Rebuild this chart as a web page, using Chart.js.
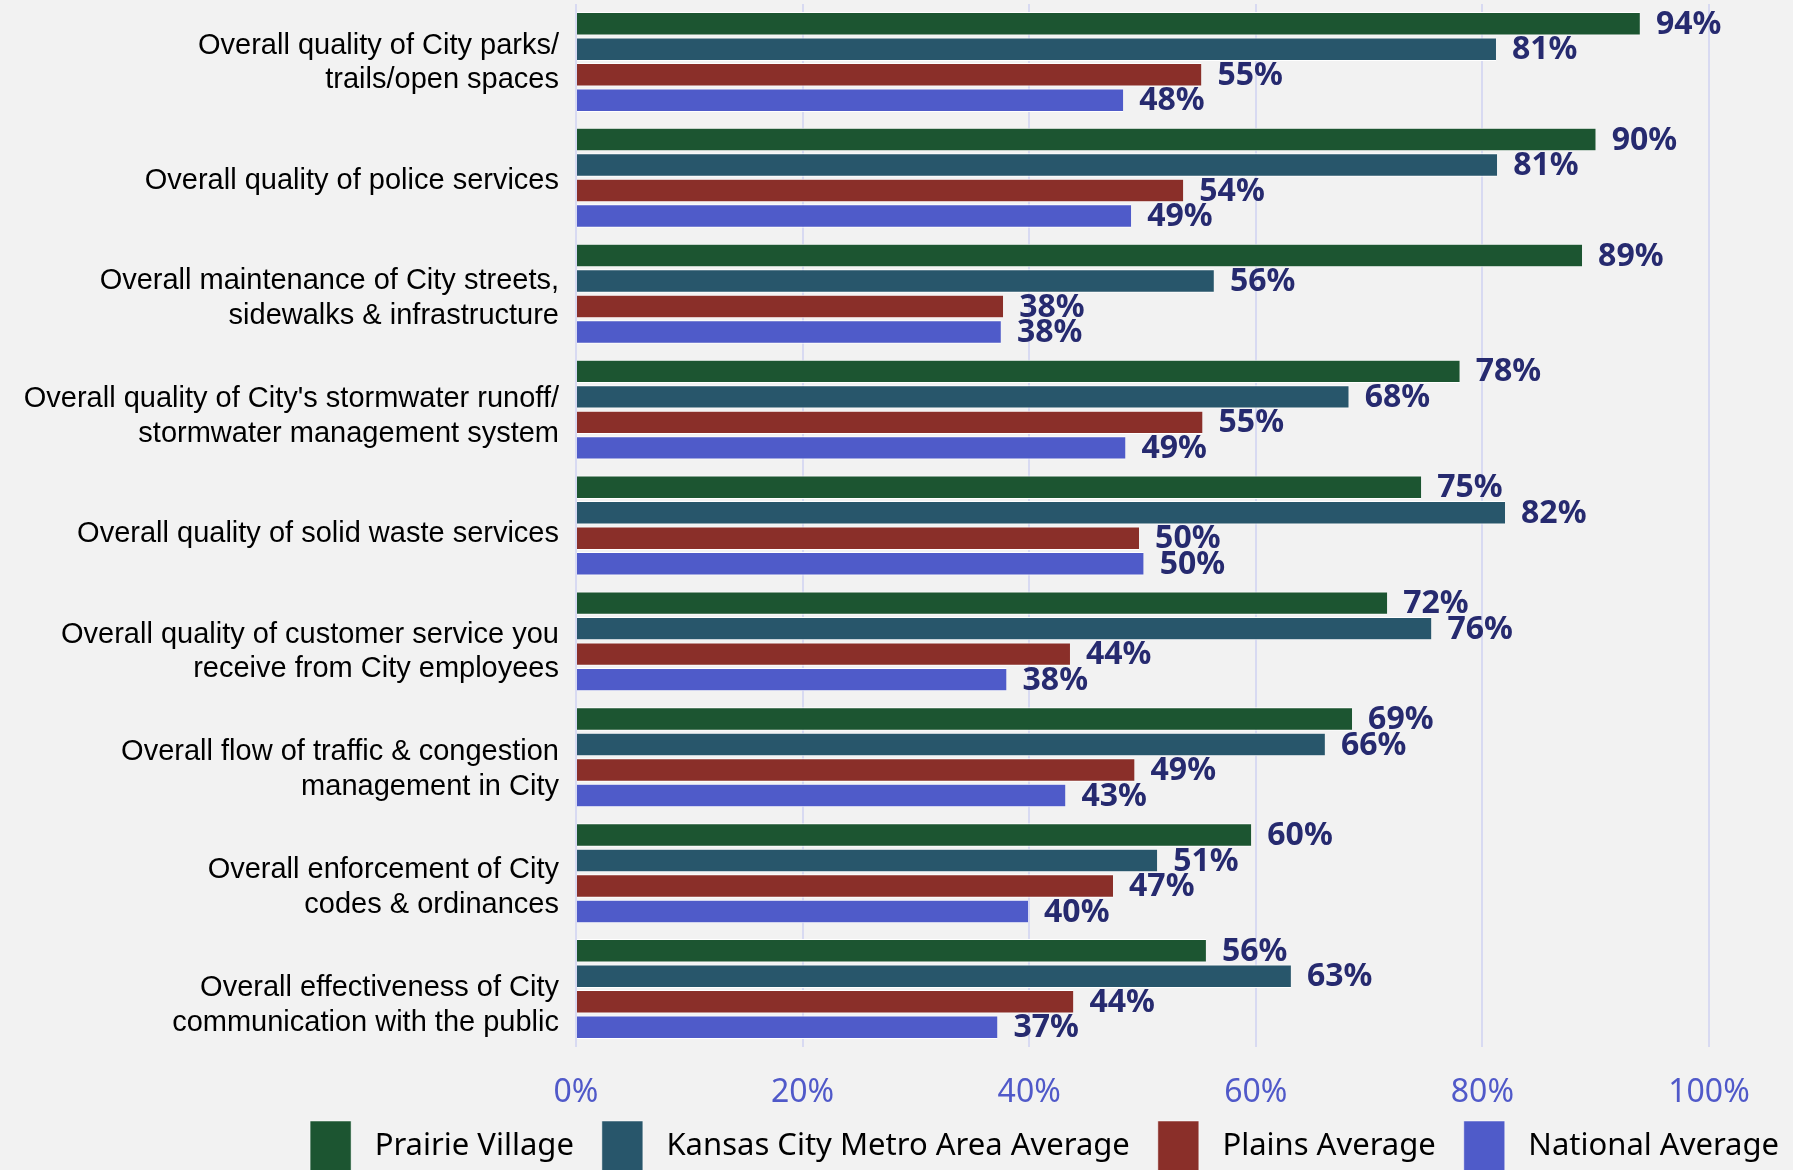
<!DOCTYPE html>
<html>
<head>
<meta charset="utf-8">
<script src="https://cdn.jsdelivr.net/npm/chart.js@4.4.1/dist/chart.umd.min.js"></script>
<style>
  html, body { margin: 0; padding: 0; background: #f2f2f2; }
  #wrap { width: 1793px; height: 1170px; position: relative; }
</style>
</head>
<body>
<div id="wrap"><canvas id="c"></canvas></div>
<script>
const categories = [
  ["Overall quality of City parks/", "trails/open spaces"],
  "Overall quality of police services",
  ["Overall maintenance of City streets,", "sidewalks & infrastructure"],
  ["Overall quality of City's stormwater runoff/", "stormwater management system"],
  "Overall quality of solid waste services",
  ["Overall quality of customer service you", "receive from City employees"],
  ["Overall flow of traffic & congestion", "management in City"],
  ["Overall enforcement of City", "codes & ordinances"],
  ["Overall effectiveness of City", "communication with the public"]
];
const seriesNames = ["Prairie Village", "Kansas City Metro Area Average", "Plains Average", "National Average"];
const prairieVillage = [93.9, 90.0, 88.8, 78.0, 74.6, 71.6, 68.5, 59.6, 55.6];
const kansasCityMetro = [81.2, 81.3, 56.3, 68.2, 82.0, 75.5, 66.1, 51.3, 63.1];
const plainsAverage = [55.2, 53.6, 37.7, 55.3, 49.7, 43.6, 49.3, 47.4, 43.9];
const nationalAverage = [48.3, 49.0, 37.5, 48.5, 50.1, 38.0, 43.2, 39.9, 37.2];
const xTickValues = [0, 20, 40, 60, 80, 100];

const colors = ["#1c5531", "#28566b", "#8a2f29", "#4f5bc9"];
const allSeries = [prairieVillage, kansasCityMetro, plainsAverage, nationalAverage];

const datasets = allSeries.map((vals, i) => ({
  label: seriesNames[i],
  data: vals,
  yAxisID: "y",
  backgroundColor: colors[i],
  borderColor: "#ffffff",
  borderWidth: { top: 1, bottom: 1, left: 0, right: 0 },
  borderSkipped: false,
  categoryPercentage: 0.88,
  barPercentage: 0.92
}));

const valueLabels = {
  id: "valueLabels",
  afterDatasetsDraw(chart) {
    const ctx = chart.ctx;
    ctx.save();
    ctx.font = "bold 32px 'Noto Sans'";
    ctx.fillStyle = "#262a6f";
    ctx.textAlign = "left";
    ctx.textBaseline = "middle";
    chart.data.datasets.forEach((ds, di) => {
      const meta = chart.getDatasetMeta(di);
      meta.data.forEach((bar, i) => {
        ctx.fillText(Math.round(ds.data[i]) + "%", bar.x + 16, bar.y + 1);
      });
    });
    ctx.restore();
  }
};

const legendShift = {
  id: "legendShift",
  afterLayout(chart) {
    const lg = chart.legend;
    if (lg) {
      const h = lg.bottom - lg.top;
      lg.right = chart.width + 14;
      lg.top = chart.chartArea.bottom + 46;
      lg.bottom = lg.top + h;
    }
  }
};

new Chart(document.getElementById("c"), {
  type: "bar",
  data: { labels: categories, datasets },
  plugins: [valueLabels, legendShift],
  options: {
    indexAxis: "y",
    responsive: true,
    maintainAspectRatio: false,
    animation: false,
    layout: { padding: { top: 4, right: 84, bottom: -39, left: 0 } },
    scales: {
      x: {
        min: 0, max: 100,
        afterBuildTicks(scale) { scale.ticks = xTickValues.map(v => ({ value: v })); },
        afterFit(scale) { scale.height = 74; },
        grid: { color: "#d8daf2", lineWidth: 2, drawTicks: false },
        border: { display: false },
        ticks: {
          padding: 27,
          color: "#5059c9",
          font: { family: "'Noto Sans'", size: 32 },
          callback: v => v + "%"
        }
      },
      y: {
        type: "category",
        display: false
      },
      yLabels: {
        type: "linear",
        position: "left",
        reverse: true,
        offset: false,
        min: -0.5,
        max: 8.354,
        afterBuildTicks(scale) { scale.ticks = categories.map((c, i) => ({ value: i })); },
        afterFit(scale) { scale.width = 576; scale.paddingTop = 0; scale.paddingBottom = 0; },
        grid: { display: false, drawTicks: false, offset: false },
        border: { display: false },
        ticks: {
          padding: 17,
          color: "#000000",
          font: { family: "'Liberation Sans', Arial, sans-serif", size: 29, lineHeight: 1.19 },
          callback: v => categories[v]
        }
      }
    },
    plugins: {
      legend: {
        position: "bottom",
        align: "end",
        labels: {
          boxWidth: 41,
          boxHeight: 50,
          padding: 28,
          color: "#000000",
          font: { family: "'Noto Sans'", size: 31 },
          generateLabels(chart) {
            const items = Chart.defaults.plugins.legend.labels.generateLabels(chart);
            items.forEach(it => { it.text = " " + it.text; });
            return items;
          }
        }
      },
      tooltip: { enabled: false }
    }
  }
});
</script>
</body>
</html>
